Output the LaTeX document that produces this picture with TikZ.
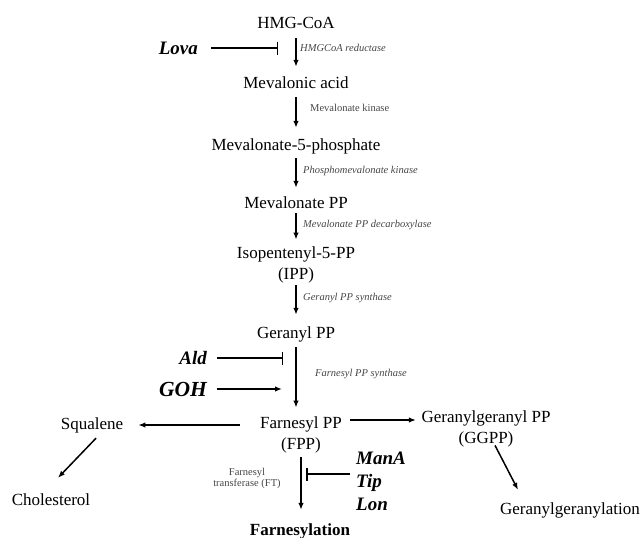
\documentclass[tikz,border=0pt]{standalone}
\usepackage{fontspec}
\setmainfont{Liberation Serif}
\usetikzlibrary{arrows.meta}
\definecolor{enzymegray}{RGB}{70,70,70}

\begin{document}
\begin{tikzpicture}[
		x=1pt, y=-1pt,
		mol/.style={font=\fontsize{17}{21}\selectfont, inner sep=0pt, text height=12pt, text depth=4pt},
		moltwo/.style={font=\fontsize{17}{21}\selectfont, inner sep=0pt, align=center},
		enzyme/.style={font=\fontsize{10.5}{11}\selectfont\itshape, text=enzymegray, inner sep=0pt, anchor=base west},
		drug/.style={font=\fontsize{19}{19}\selectfont\bfseries\itshape, inner sep=0pt},
		react/.style={line width=1.5pt, -{Latex[length=7pt,width=5.5pt]}},
		inhibit/.style={line width=1.5pt, -{Bar[width=13pt]}}
	]
	\useasboundingbox (0,0) rectangle (643,538);

	\node[mol] (hmg) at (296,24) {HMG-CoA};
	\node[mol] (mev) at (296,84) {Mevalonic acid};
	\node[mol] (mvp) at (296,146) {Mevalonate-5-phosphate};
	\node[mol] (mpp) at (296,204) {Mevalonate PP};
	\node[moltwo] (ipp) at (296,265) {Isopentenyl-5-PP\\(IPP)};
	\node[mol] (gpp) at (296,334) {Geranyl PP};
	\node[moltwo] (fpp) at (301,435) {Farnesyl PP\\(FPP)};
	\node[mol] (sq) at (92,425) {Squalene};
	\node[mol] (chol) at (51,501) {Cholesterol};
	\node[moltwo] (gg) at (486,429) {Geranylgeranyl PP\\(GGPP)};
	\node[mol] (ggl) at (570,510) {Geranylgeranylation};
	\node[mol, font=\fontsize{17}{21}\selectfont\bfseries] (far) at (300,531) {Farnesylation};

	\node[enzyme] (hmgr) at (300,51.5) {HMGCoA reductase};
	\node[enzyme, font=\fontsize{10.5}{11}\selectfont\upshape] (mvk) at (310,111.5) {Mevalonate kinase};
	\node[enzyme] (pmk) at (303,173.5) {Phosphomevalonate kinase};
	\node[enzyme] (mpd) at (303,227.5) {Mevalonate PP decarboxylase};
	\node[enzyme] (gps) at (303,300.5) {Geranyl PP synthase};
	\node[enzyme] (fps) at (315,376.5) {Farnesyl PP synthase};
	\node[font=\fontsize{10.5}{11}\selectfont, text=enzymegray, inner sep=0pt, align=center] (ft) at (247,478) {Farnesyl\\transferase (FT)};

	\node[drug, anchor=east] (lova) at (198,48) {Lova};
	\node[drug, anchor=east] (ald) at (207,358) {Ald};
	\node[drug, anchor=east, font=\fontsize{21.5}{21.5}\selectfont\bfseries\itshape] (goh) at (207,389) {GOH};
	\node[drug, anchor=base west] (mana) at (356,464) {ManA};
	\node[drug, anchor=base west] (tip) at (356,487) {Tip};
	\node[drug, anchor=base west] (lon) at (356,510) {Lon};

	\coordinate (lovabar) at (278,48);
	\coordinate (aldbar) at (283,358);
	\coordinate (gohend) at (282,389);
	\coordinate (ftbar) at (306,474);

	\draw[react, shorten <=6pt, shorten >=9pt] (hmg) -- (mev);
	\draw[react, shorten <=5pt, shorten >=10pt] (mev) -- (mvp);
	\draw[react, shorten <=4pt, shorten >=8pt] (mvp) -- (mpp);
	\draw[react, shorten <=1pt, shorten >=7pt] (mpp) -- (ipp);
	\draw[react, shorten <=2pt, shorten >=11pt] (ipp) -- (gpp);
	\draw[react, shorten <=5pt, shorten >=9pt] (gpp) -- (gpp |- fpp.north);
	\draw[react, shorten <=4pt, shorten >=13pt] (fpp) -- (fpp |- far.north);
	\draw[react, shorten <=20pt, shorten >=15pt] (fpp.west |- sq) -- (sq);
	\draw[react, shorten <=8pt, shorten >=5.5pt] ([yshift=15pt]fpp.east) -- ([yshift=9pt]gg.west);
	\draw[react] ([xshift=4pt,yshift=-5pt]sq.south) -- ([xshift=7pt,yshift=15pt]chol.north);
	\draw[react] ([xshift=9pt,yshift=2pt]gg.south) -- ([xshift=-52pt,yshift=12pt]ggl.north);

	\draw[inhibit, shorten <=13pt] (lova) -- (lovabar);
	\draw[inhibit, shorten <=10pt] (ald.east |- aldbar) -- (aldbar);
	\draw[react, shorten <=10pt] (goh.east |- gohend) -- (gohend);
	\draw[inhibit, shorten <=6pt] (tip.west |- ftbar) -- (ftbar);
\end{tikzpicture}
\end{document}
